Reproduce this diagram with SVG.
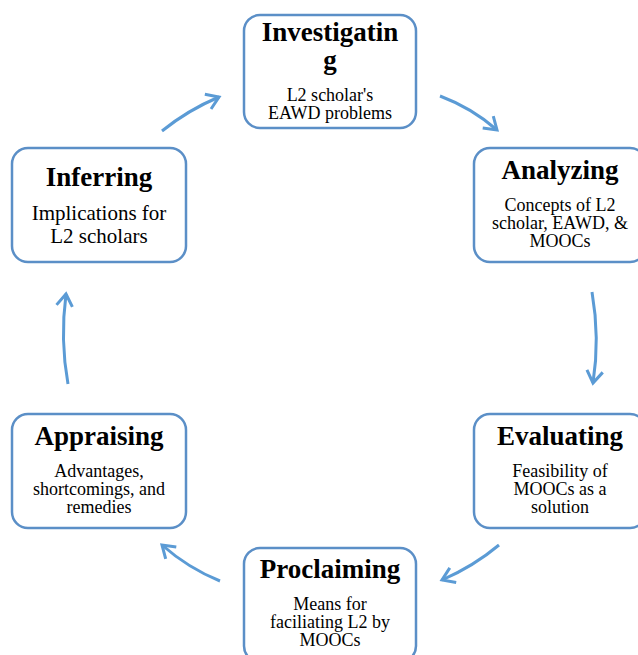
<svg xmlns="http://www.w3.org/2000/svg" width="638" height="655" viewBox="0 0 638 655">
<style>
.box{fill:#fff;stroke:#5B8FC7;stroke-width:2.5}
.t{font-family:"Liberation Serif",serif;font-weight:bold;font-size:27px;text-anchor:middle;fill:#000}
.b{font-family:"Liberation Serif",serif;font-size:18px;text-anchor:middle;fill:#000}
.c{fill:none;stroke:#5B9BD5;stroke-width:3}
</style>
<defs>
<marker id="ah" viewBox="0 0 20 20" refX="16" refY="10" markerWidth="20" markerHeight="20" markerUnits="userSpaceOnUse" orient="auto">
<path d="M4,2 L16,10 L4,18" fill="none" stroke="#5B9BD5" stroke-width="3"/>
</marker>
</defs>
<rect width="638" height="655" fill="#fff"/>
<g id="connectors">
<path class="c" d="M162,131 Q188,110 219,97" marker-end="url(#ah)"/>
<path class="c" d="M440,96 Q472,108 497,130" marker-end="url(#ah)"/>
<path class="c" d="M592,292 Q600,338 593,383" marker-end="url(#ah)"/>
<path class="c" d="M499,545 Q474,566 442,580" marker-end="url(#ah)"/>
<path class="c" d="M220,581 Q188,568 162,545" marker-end="url(#ah)"/>
<path class="c" d="M68,384 Q60,340 66,294" marker-end="url(#ah)"/>
</g>
<g id="investigating">
<rect class="box" x="244" y="15" width="172" height="113" rx="16"/>
<text class="t" x="330" y="41">Investigatin</text>
<text class="t" x="330" y="69">g</text>
<text class="b" x="330" y="101">L2 scholar's</text>
<text class="b" x="330" y="119">EAWD problems</text>
</g>
<g id="analyzing">
<rect class="box" x="474" y="148" width="172" height="114" rx="16"/>
<text class="t" x="560" y="179">Analyzing</text>
<text class="b" x="560" y="211">Concepts of L2</text>
<text class="b" x="560" y="229">scholar, EAWD, &amp;</text>
<text class="b" x="560" y="247">MOOCs</text>
</g>
<g id="evaluating">
<rect class="box" x="474" y="414" width="172" height="114" rx="16"/>
<text class="t" x="560" y="445">Evaluating</text>
<text class="b" x="560" y="477">Feasibility of</text>
<text class="b" x="560" y="495">MOOCs as a</text>
<text class="b" x="560" y="513">solution</text>
</g>
<g id="proclaiming">
<rect class="box" x="244" y="548" width="172" height="114" rx="16"/>
<text class="t" x="330" y="578">Proclaiming</text>
<text class="b" x="330" y="610">Means for</text>
<text class="b" x="330" y="628">faciliating L2 by</text>
<text class="b" x="330" y="646">MOOCs</text>
</g>
<g id="appraising">
<rect class="box" x="12" y="414" width="174" height="114" rx="16"/>
<text class="t" x="99" y="445">Appraising</text>
<text class="b" x="99" y="477">Advantages,</text>
<text class="b" x="99" y="495">shortcomings, and</text>
<text class="b" x="99" y="513">remedies</text>
</g>
<g id="inferring">
<rect class="box" x="12" y="148" width="174" height="114" rx="16"/>
<text class="t" x="99" y="186">Inferring</text>
<text class="b" x="99" y="220" style="font-size:21px">Implications for</text>
<text class="b" x="99" y="243" style="font-size:21px">L2 scholars</text>
</g>
</svg>
